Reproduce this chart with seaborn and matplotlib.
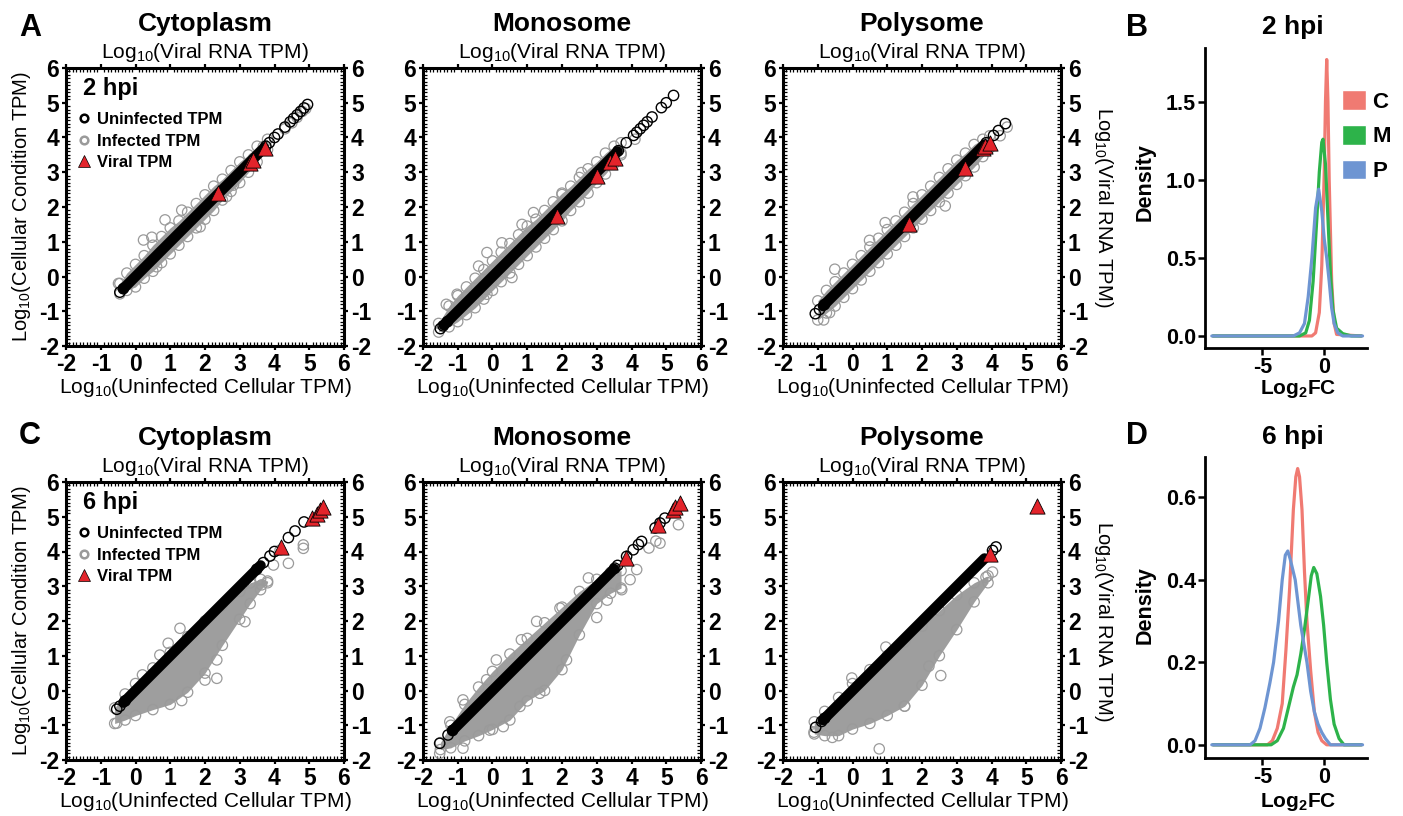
import matplotlib
matplotlib.use("Agg")
import matplotlib.pyplot as plt
from matplotlib.lines import Line2D
from matplotlib.patches import Patch
from matplotlib.ticker import MultipleLocator
import seaborn as sns

sns.set_theme(style="white")
plt.rcParams["font.family"] = ["Liberation Sans", "DejaVu Sans"]
plt.rcParams["mathtext.fontset"] = "custom"
plt.rcParams["mathtext.rm"] = "Liberation Sans"
plt.rcParams["mathtext.bf"] = "Liberation Sans:bold"
plt.rcParams["mathtext.it"] = "Liberation Sans:italic"
plt.rcParams["axes.unicode_minus"] = False
plt.rcParams["text.color"] = "black"
plt.rcParams["axes.labelcolor"] = "black"
plt.rcParams["xtick.color"] = "black"
plt.rcParams["ytick.color"] = "black"

# ---- scatter panels: log10 TPM ----
# 2 hpi, cytoplasm
cyto2_line = [-0.35, 3.7]
cyto2_open = [-0.45, -0.35, 3.75, 3.85, 4.0, 4.1, 4.3, 4.45, 4.55, 4.65, 4.75, 4.85, 4.95]
cyto2_env_x = [-0.45, -0.25, 0, 0.25, 0.5, 0.75, 1, 1.25, 1.5, 1.75, 2, 2.25, 2.5, 2.75, 3, 3.25, 3.5, 3.8]
cyto2_env_hi = [-0.2, 0.1, 0.35, 0.6, 0.9, 1.15, 1.4, 1.6, 1.85, 2.1, 2.35, 2.6, 2.8, 3.05, 3.3, 3.5, 3.75, 3.95]
cyto2_env_lo = [-0.5, -0.4, -0.3, -0.05, 0.15, 0.4, 0.65, 0.9, 1.15, 1.4, 1.65, 1.9, 2.2, 2.45, 2.7, 3.0, 3.3, 3.65]
cyto2_out_x = [-0.49, 0.23, 0.47, 0.85, 0.61, 1.86, 1.33, 2.62, 2.82, 3.39, 3.68, 4.3, 4.5, 4.65, 4.8, 4.9]
cyto2_out_y = [-0.2, 1.05, 1.13, 1.63, 0.28, 1.43, 1.91, 2.3, 2.63, 3.4, 3.74, 4.25, 4.42, 4.58, 4.75, 4.83]
cyto2_vir_x = [2.38, 3.3, 3.38, 3.73]
cyto2_vir_y = [2.39, 3.28, 3.35, 3.69]

# 2 hpi, monosome
mono2_line = [-1.4, 3.6]
mono2_open = [-1.5, -1.42, -1.3, 3.62, 3.85, 4.06, 4.15, 4.25, 4.35, 4.45, 4.59, 4.86, 5.0, 5.21]
mono2_env_x = [-1.55, -1.25, -1.0, -0.75, -0.5, -0.25, 0, 0.25, 0.5, 0.75, 1, 1.25, 1.5, 1.75, 2, 2.25,
               2.5, 2.75, 3, 3.25, 3.5, 3.7]
mono2_env_hi = [-1.35, -0.85, -0.55, -0.3, -0.05, 0.2, 0.45, 0.7, 0.95, 1.2, 1.45, 1.65, 1.9, 2.15, 2.4, 2.6,
                2.85, 3.1, 3.3, 3.55, 3.75, 3.85]
mono2_env_lo = [-1.6, -1.45, -1.3, -1.1, -0.9, -0.65, -0.4, -0.15, 0.1, 0.35, 0.6, 0.85, 1.1, 1.35, 1.6, 1.9,
                2.15, 2.4, 2.7, 2.95, 3.25, 3.5]
mono2_out_x = [-0.16, 0.27, -0.4, -1.02, -1.33, 0.85, 1.18, 2.0, 2.56, 0.56, -0.16, 3.7, 4.1]
mono2_out_y = [0.69, 0.97, 0.3, -0.51, -0.8, 1.5, 1.84, 2.36, 2.99, -0.03, -0.51, 3.55, 3.95]
mono2_vir_x = [1.86, 3.0, 3.39, 3.53]
mono2_vir_y = [1.74, 2.89, 3.30, 3.42]

# 2 hpi, polysome
poly2_line = [-0.85, 3.8]
poly2_open = [-1.07, -0.95, -0.81, 3.85, 4.06, 4.2, 4.4]
poly2_env_x = [-1.0, -0.75, -0.5, -0.25, 0, 0.25, 0.5, 0.75, 1, 1.25, 1.5, 1.75, 2, 2.25, 2.5, 2.75, 3,
               3.25, 3.5, 3.75, 3.95]
poly2_env_hi = [-0.7, -0.4, -0.15, 0.1, 0.35, 0.6, 0.85, 1.1, 1.35, 1.6, 1.85, 2.1, 2.35, 2.6, 2.85, 3.1, 3.35,
                3.55, 3.8, 3.95, 4.05]
poly2_env_lo = [-1.25, -1.05, -0.85, -0.6, -0.35, -0.1, 0.15, 0.4, 0.65, 0.9, 1.15, 1.4, 1.65, 1.9, 2.15, 2.4,
                2.65, 2.9, 3.15, 3.45, 3.7]
poly2_out_x = [-0.51, 0.94, 1.74, 2.67, 0.49, -0.83, -0.66, 4.25, 4.45, 3.5]
poly2_out_y = [0.21, 1.55, 2.29, 2.03, 1.04, -1.25, -1.04, 4.05, 4.3, 3.35]
poly2_vir_x = [1.62, 3.23, 3.76, 3.82, 3.95]
poly2_vir_y = [1.52, 3.13, 3.71, 3.76, 3.85]

# 6 hpi, cytoplasm
cyto6_line = [-0.35, 3.6]
cyto6_open = [-0.54, -0.45, -0.3, 3.49, 3.68, 3.87, 4.0, 4.4, 4.59, 4.85]
cyto6_env_x = [-0.6, -0.3, 0, 0.5, 1, 1.5, 2, 2.5, 3, 3.3, 3.6, 3.8]
cyto6_env_hi = [-0.5, -0.1, 0.2, 0.65, 1.1, 1.55, 2.0, 2.45, 2.85, 3.1, 3.2, 3.15]
cyto6_env_lo = [-0.95, -0.85, -0.72, -0.55, -0.4, -0.05, 0.5, 1.3, 2.05, 2.5, 2.9, 3.1]
cyto6_out_x = [1.28, 0.94, 0.7, 2.34, 2.34, 1.33, 3.15, 3.1, 3.63, 3.97, 4.16, 4.4, 4.83, 4.83, -0.54, 0.2, 2.0]
cyto6_out_y = [1.79, 1.36, 1.02, 0.88, 0.35, -0.29, 1.98, 3.04, 3.04, 3.61, 4.04, 3.66, 4.19, 4.09, -0.94, 0.45, 0.3]
cyto6_vir_x = [4.2, 5.07, 5.21, 5.31, 5.39]
cyto6_vir_y = [4.14, 4.95, 5.08, 5.2, 5.27]

# 6 hpi, monosome
mono6_line = [-1.15, 3.5]
mono6_open = [-1.52, -1.28, -1.15, 3.52, 3.6, 3.86, 4.05, 4.2, 4.29, 4.68, 4.82, 4.96]
mono6_env_x = [-1.5, -1.2, -0.8, -0.4, 0, 0.5, 1, 1.5, 2, 2.5, 3, 3.4, 3.7]
mono6_env_hi = [-1.5, -1.0, -0.4, 0.1, 0.55, 1.05, 1.5, 1.95, 2.4, 2.85, 3.2, 3.4, 3.45]
mono6_env_lo = [-1.7, -1.65, -1.45, -1.3, -1.12, -0.85, -0.3, 0.0, 0.6, 1.6, 2.5, 2.8, 2.95]
mono6_out_x = [-1.52, -0.85, -0.08, 0.31, 0.79, 1.36, 2.13, 3.72, 3.96, 4.15, 4.82, 5.35,
               -1.23, -0.85, -0.17, 0.11, 0.83, 1.27, 1.94, 2.76, 4.5, 4.7, 3.0, 3.3]
mono6_out_y = [-1.81, -1.66, -1.14, -1.04, -0.46, -0.08, 0.88, 2.9, 3.19, 3.48, 4.24, 4.77,
               -0.9, -0.27, 0.31, 0.88, 1.46, 1.99, 2.37, 3.24, 4.1, 4.3, 2.1, 2.6]
mono6_vir_x = [3.84, 4.77, 5.19, 5.25, 5.4]
mono6_vir_y = [3.81, 4.77, 5.2, 5.28, 5.4]

# 6 hpi, polysome
poly6_line = [-0.85, 3.8]
poly6_open = [-1.06, -0.89, -0.8, 4.03, 4.13]
poly6_env_x = [-1.1, -0.8, -0.4, 0, 0.5, 1, 1.5, 2, 2.5, 3, 3.5, 3.9]
poly6_env_hi = [-0.9, -0.6, -0.2, 0.2, 0.6, 1.0, 1.4, 1.85, 2.3, 2.75, 3.1, 3.3]
poly6_env_lo = [-1.25, -1.3, -1.3, -1.11, -0.95, -0.72, -0.45, 0.15, 1.0, 1.75, 2.55, 3.1]
poly6_out_x = [0.77, -0.02, 2.54, 0.96, 2.2, -1.11, -0.58, 4.03, 3.84, 1.5]
poly6_out_y = [-1.68, 0.36, 0.43, 1.25, 0.7, -1.2, -1.35, 3.41, 3.26, -0.45]
poly6_vir_x = [3.96, 5.31]
poly6_vir_y = [3.94, 5.3]

# ---- density panels: Log2FC vs density ----
c2_x = [-9.0, -1.0, -0.7, -0.4, -0.2, 0.0, 0.1, 0.2, 0.3, 0.4, 0.6, 0.8, 1.0, 3.0]
c2_y = [0, 0, 0.02, 0.15, 0.45, 1.05, 1.5, 1.77, 1.5, 1.0, 0.35, 0.08, 0.01, 0]
m2_x = [-9.0, -2.0, -1.5, -1.2, -0.9, -0.6, -0.4, -0.2, -0.1, 0.1, 0.3, 0.5, 0.7, 1.0, 1.5, 2.2, 3.0]
m2_y = [0, 0, 0.02, 0.1, 0.35, 0.75, 1.05, 1.24, 1.26, 1.1, 0.75, 0.4, 0.17, 0.05, 0.015, 0, 0]
p2_x = [-9.1, -2.5, -2.0, -1.6, -1.3, -1.0, -0.7, -0.45, -0.2, 0.0, 0.2, 0.4, 0.6, 0.8, 1.1, 1.5, 3.1]
p2_y = [0, 0, 0.02, 0.08, 0.25, 0.5, 0.82, 0.94, 0.8, 0.62, 0.5, 0.35, 0.18, 0.08, 0.02, 0, 0]

c6_x = [-9.0, -4.6, -4.2, -3.8, -3.4, -3.1, -2.8, -2.5, -2.3, -2.15, -2.0, -1.8, -1.6, -1.4, -1.1, -0.8, -0.5, -0.2, 0.2, 3.0]
c6_y = [0, 0, 0.01, 0.04, 0.1, 0.23, 0.38, 0.57, 0.65, 0.67, 0.65, 0.57, 0.42, 0.3, 0.18, 0.08, 0.03, 0.01, 0, 0]
m6_x = [-9.0, -4.3, -3.8, -3.3, -2.9, -2.5, -2.2, -1.9, -1.6, -1.3, -1.05, -0.85, -0.6, -0.3, -0.05, 0.2, 0.5, 0.8, 1.2, 1.6, 3.0]
m6_y = [0, 0, 0.01, 0.04, 0.09, 0.14, 0.17, 0.22, 0.28, 0.35, 0.41, 0.43, 0.415, 0.36, 0.29, 0.2, 0.11, 0.05, 0.015, 0, 0]
p6_x = [-9.1, -6.0, -5.6, -5.2, -4.8, -4.4, -4.1, -3.7, -3.4, -3.15, -2.95, -2.75, -2.35, -1.9, -1.4, -1.1, -0.8, -0.5, -0.2, 0.1, 0.5, 3.1]
p6_y = [0, 0, 0.01, 0.04, 0.09, 0.15, 0.2, 0.3, 0.4, 0.46, 0.47, 0.45, 0.4, 0.29, 0.2, 0.13, 0.08, 0.05, 0.03, 0.015, 0, 0]

COL_C = "#F07A72"
COL_M = "#2DB34A"
COL_P = "#6E95D2"
GRAY = "#9a9a9a"
GRAY_FILL = "#9e9e9e"
RED = "#E3242B"

W, H = 1403, 816
fig = plt.figure(figsize=(W / 100, H / 100), dpi=100)


def px_axes(left, top, w, h):
    return fig.add_axes([left / W, 1 - (top + h) / H, w / W, h / H])


def ftext(x, y, s, **kw):
    fig.text(x / W, 1 - y / H, s, **kw)


def draw_scatter(ax, line, opn, ex, ehi, elo, ox, oy, vx, vy):
    ax.fill_between(ex, elo, ehi, color=GRAY_FILL, lw=0, zorder=1)
    sns.scatterplot(x=ex + ex + ox, y=elo + ehi + oy, ax=ax, s=55, facecolor="none",
                    edgecolor=GRAY, linewidth=0.9, zorder=2)
    sns.lineplot(x=line, y=line, ax=ax, color="black", lw=7.5, sort=False,
                 solid_capstyle="round", zorder=3)
    sns.scatterplot(x=opn, y=opn, ax=ax, s=55, facecolor="none",
                    edgecolor="black", linewidth=1.0, zorder=4)
    sns.scatterplot(x=vx, y=vy, ax=ax, marker="^", s=120, color=RED,
                    edgecolor="black", linewidth=0.6, zorder=5)

    ax.set_xlim(-2, 6)
    ax.set_ylim(-2, 6)
    ax.set_xticks(range(-2, 7))
    ax.set_yticks(range(-2, 7))
    ax.xaxis.set_minor_locator(MultipleLocator(0.1))
    ax.yaxis.set_minor_locator(MultipleLocator(0.1))
    ax.tick_params(which="major", direction="out", length=3, width=1.6, colors="black",
                   top=True, right=True, bottom=True, left=True, labelright=True,
                   labelsize=16.5, pad=2)
    ax.tick_params(which="minor", direction="in", length=3, width=0.9, colors="black",
                   top=True, right=True, bottom=True, left=True)
    for lab in ax.get_xticklabels() + ax.get_yticklabels():
        lab.set_fontweight("bold")
    for sp in ax.spines.values():
        sp.set_linewidth(2.2)
        sp.set_color("black")
    ax.set_xlabel("")
    ax.set_ylabel("")


def scatter_legend(ax, hpi):
    ax.text(0.062, 0.925, hpi, transform=ax.transAxes, fontsize=17,
            fontweight="bold", va="center", ha="left")
    handles = [
        Line2D([], [], ls="", marker="o", ms=5.5, mfc="none", mec="black", mew=1.8),
        Line2D([], [], ls="", marker="o", ms=5.5, mfc="none", mec=GRAY, mew=1.8),
        Line2D([], [], ls="", marker="^", ms=8, mfc=RED, mec="black", mew=0.5),
    ]
    ax.legend(handles, ["Uninfected TPM", "Infected TPM", "Viral TPM"],
              loc="upper left", bbox_to_anchor=(0.02, 0.86), frameon=False,
              prop={"weight": "bold", "size": 12}, handlelength=0.9,
              handletextpad=0.3, labelspacing=0.4, borderpad=0.3, borderaxespad=0)


def draw_density(ax, curves, ylim, yticks, ylabels):
    for cx, cy, col in curves:
        sns.lineplot(x=cx, y=cy, ax=ax, color=col, lw=2.3, sort=False, legend=False)
    ax.set_xlim(-9.65, 3.46)
    ax.set_ylim(*ylim)
    ax.set_xticks([-5, 0])
    ax.set_xticklabels(["-5", "0"])
    ax.set_yticks(yticks)
    ax.set_yticklabels(ylabels)
    sns.despine(ax=ax)
    for sp in ("left", "bottom"):
        ax.spines[sp].set_linewidth(2.0)
        ax.spines[sp].set_color("black")
    ax.tick_params(direction="out", length=5, width=1.8, colors="black",
                   left=True, bottom=True, labelsize=15.5, pad=1.5)
    for lab in ax.get_xticklabels() + ax.get_yticklabels():
        lab.set_fontweight("bold")
    ax.set_xlabel("")
    ax.set_ylabel("")


cols_x = [66, 423, 783]
rows_top = [68, 482]
names = ["Cytoplasm", "Monosome", "Polysome"]

panels = [
    [(cyto2_line, cyto2_open, cyto2_env_x, cyto2_env_hi, cyto2_env_lo, cyto2_out_x, cyto2_out_y, cyto2_vir_x, cyto2_vir_y),
     (mono2_line, mono2_open, mono2_env_x, mono2_env_hi, mono2_env_lo, mono2_out_x, mono2_out_y, mono2_vir_x, mono2_vir_y),
     (poly2_line, poly2_open, poly2_env_x, poly2_env_hi, poly2_env_lo, poly2_out_x, poly2_out_y, poly2_vir_x, poly2_vir_y)],
    [(cyto6_line, cyto6_open, cyto6_env_x, cyto6_env_hi, cyto6_env_lo, cyto6_out_x, cyto6_out_y, cyto6_vir_x, cyto6_vir_y),
     (mono6_line, mono6_open, mono6_env_x, mono6_env_hi, mono6_env_lo, mono6_out_x, mono6_out_y, mono6_vir_x, mono6_vir_y),
     (poly6_line, poly6_open, poly6_env_x, poly6_env_hi, poly6_env_lo, poly6_out_x, poly6_out_y, poly6_vir_x, poly6_vir_y)],
]

for r, top in enumerate(rows_top):
    for c, left in enumerate(cols_x):
        ax = px_axes(left, top, 278, 278)
        draw_scatter(ax, *panels[r][c])
        cx = left + 139
        ftext(cx, top - 37, names[c], ha="center", va="baseline", fontsize=19, fontweight="bold")
        ftext(cx, top - 10, r"Log$_{10}$(Viral RNA TPM)", ha="center", va="baseline", fontsize=15)
        ftext(cx, top + 325, r"Log$_{10}$(Uninfected Cellular TPM)", ha="center", va="baseline", fontsize=15)
        if c == 0:
            ftext(22, top + 139, r"Log$_{10}$(Cellular Condition TPM)", ha="center", va="center",
                  rotation=90, fontsize=14.5)
            scatter_legend(ax, "2 hpi" if r == 0 else "6 hpi")
        if c == 2:
            ftext(1103, top + 139, r"Log$_{10}$(Viral RNA TPM)", ha="center", va="center",
                  rotation=270, fontsize=14.5)

# density panels
axB = px_axes(1205, 48, 162, 300)
draw_density(axB, [(c2_x, c2_y, COL_C), (m2_x, m2_y, COL_M), (p2_x, p2_y, COL_P)],
             (-0.077, 1.844), [0, 0.5, 1.0, 1.5], ["0.0", "0.5", "1.0", "1.5"])
axB.legend([Patch(facecolor=COL_C, edgecolor="white"), Patch(facecolor=COL_M, edgecolor="white"),
            Patch(facecolor=COL_P, edgecolor="white")], ["C", "M", "P"],
           loc="upper left", bbox_to_anchor=(0.846, 0.86), frameon=False,
           prop={"weight": "bold", "size": 16}, handlelength=1.1, handleheight=1.0,
           handletextpad=0.25, labelspacing=0.55, borderpad=0, borderaxespad=0)

axD = px_axes(1205, 457, 162, 301)
draw_density(axD, [(c6_x, c6_y, COL_C), (m6_x, m6_y, COL_M), (p6_x, p6_y, COL_P)],
             (-0.032, 0.698), [0, 0.2, 0.4, 0.6], ["0.0", "0.2", "0.4", "0.6"])

ftext(1293, 34, "2 hpi", ha="center", va="baseline", fontsize=19, fontweight="bold")
ftext(1293, 444, "6 hpi", ha="center", va="baseline", fontsize=19, fontweight="bold")
ftext(1145, 182, "Density", ha="center", va="center", rotation=90, fontsize=15.5, fontweight="bold")
ftext(1145, 605, "Density", ha="center", va="center", rotation=90, fontsize=15.5, fontweight="bold")
ftext(1298, 394, r"Log$_{\mathbf{2}}$FC", ha="center", va="baseline", fontsize=15, fontweight="bold")
ftext(1298, 807, r"Log$_{\mathbf{2}}$FC", ha="center", va="baseline", fontsize=15, fontweight="bold")

# panel letters
for letter, x, y in [("A", 19, 36), ("B", 1126, 36), ("C", 19, 444), ("D", 1126, 444)]:
    ftext(x, y, letter, ha="left", va="baseline", fontsize=22, fontweight="bold")

fig.savefig("out.png", dpi=100)
